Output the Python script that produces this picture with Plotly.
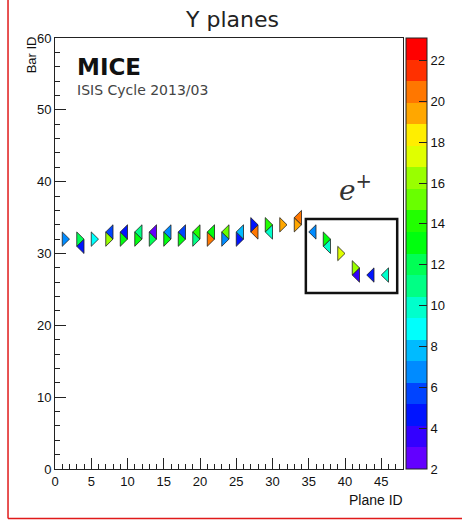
import colorsys
import plotly.graph_objects as go

# ---------------- data ----------------
plane_id = [1, 3, 3, 5, 7, 7, 9, 9, 11, 11, 13, 13, 15, 15, 17, 17, 19, 19, 21, 21,
            23, 23, 25, 25, 27, 27, 29, 29, 31, 33, 33, 35, 37, 37, 39, 41, 41, 43, 45]
bar_id = [32, 31, 32, 32, 32, 33, 32, 33, 32, 33, 32, 33, 32, 33, 32, 33, 32, 33, 32, 33,
          32, 33, 32, 33, 33, 34, 33, 34, 34, 34, 35, 33, 31, 32, 30, 27, 28, 27, 27]
charge = [7.0, 4.5, 12.5, 9.0, 16.0, 6.0, 13.0, 4.5, 13.0, 10.5, 12.0, 3.0, 13.0, 6.5,
          13.5, 6.0, 11.0, 14.0, 20.0, 13.5, 7.0, 15.0, 5.0, 8.0, 20.5, 5.0, 10.0, 14.5,
          19.0, 19.0, 20.5, 6.5, 10.0, 13.5, 17.0, 3.5, 16.5, 4.5, 10.0]
z_min, z_max = 2.0, 23.1
z_ticks = [2, 4, 6, 8, 10, 12, 14, 16, 18, 20, 22]
x_range = [0, 48]
y_range = [0, 60]

# ---------------- ROOT "pretty" palette, 20 contour bands ----------------
n_pal, n_cont = 50, 20
pal = []
for i in range(n_pal):
    hue = 280 - (i + 1) * (280.0 / n_pal)
    r, g, b = colorsys.hls_to_rgb(hue / 360.0, 0.5, 1.0)
    pal.append("rgb(%d,%d,%d)" % (round(r * 255), round(g * 255), round(b * 255)))
band_colors = [pal[int((k + 0.99) * n_pal / n_cont)] for k in range(n_cont)]
colorscale = []
for k, c in enumerate(band_colors):
    colorscale.append([k / n_cont, c])
    colorscale.append([(k + 1) / n_cont, c])


def band_color(v):
    k = int((v - z_min) / (z_max - z_min) * n_cont)
    return band_colors[min(max(k, 0), n_cont - 1)]


fig = go.Figure()

# triangles: even bars point right, odd bars point left
for p, j, q in zip(plane_id, bar_id, charge):
    if j % 2 == 0:
        xs = [p, p, p + 1, p]
    else:
        xs = [p + 1, p + 1, p, p + 1]
    ys = [j - 1, j + 1, j, j - 1]
    fig.add_trace(go.Scatter(x=xs, y=ys, mode="lines", fill="toself",
                             fillcolor=band_color(q), line=dict(color="#222222", width=0.8),
                             hoverinfo="skip", showlegend=False))

# invisible markers carrying the colour scale (for colour bar)
fig.add_trace(go.Scatter(
    x=[p + 0.5 for p in plane_id], y=bar_id, mode="markers",
    marker=dict(color=charge, colorscale=colorscale, cmin=z_min, cmax=z_max,
                opacity=0, size=1, showscale=True,
                colorbar=dict(thickness=21, thicknessmode="pixels", len=1, lenmode="fraction",
                              x=1.008, xanchor="left", xref="paper", y=0, yanchor="bottom",
                              yref="paper", outlinewidth=1, outlinecolor="#222",
                              tickmode="array", tickvals=z_ticks, ticks="inside", ticklen=8,
                              tickcolor="#222", ticklabelposition="outside",
                              tickfont=dict(family="Liberation Sans", size=13, color="#111"),
                              xpad=0, ypad=0)),
    hoverinfo="skip", showlegend=False))

axis_common = dict(showline=True, linecolor="#222", linewidth=1, mirror=True,
                   showgrid=False, zeroline=False, ticks="inside", tickcolor="#222",
                   automargin=False,
                   tickfont=dict(family="Liberation Sans", size=13, color="#111"))
fig.update_layout(
    width=470, height=520, autosize=False,
    margin=dict(l=55, r=67, t=38, b=51),
    paper_bgcolor="white", plot_bgcolor="white",
    xaxis=dict(range=x_range, tick0=0, dtick=5, ticklen=11,
               minor=dict(dtick=1, ticklen=5, ticks="inside", tickcolor="#222"),
               **axis_common),
    yaxis=dict(range=y_range, tick0=0, dtick=10, ticklen=11,
               minor=dict(dtick=2, ticklen=5, ticks="inside", tickcolor="#222"),
               **axis_common),
)

fig.add_annotation(text="Y planes", xref="paper", yref="paper", x=0.509, y=1.044,
                   showarrow=False, xanchor="center", yanchor="middle",
                   font=dict(family="DejaVu Sans", size=22, color="#222"))
fig.add_annotation(text="<b>MICE</b>", xref="x", yref="y", x=2.8, y=56.0,
                   showarrow=False, xanchor="left", yanchor="middle",
                   font=dict(family="DejaVu Sans", size=23, color="#111"))
fig.add_annotation(text="ISIS Cycle 2013/03", xref="x", yref="y", x=2.8, y=52.8,
                   showarrow=False, xanchor="left", yanchor="middle",
                   font=dict(family="DejaVu Sans", size=14, color="#444"))
fig.add_annotation(text="<i>e</i><sup>+</sup>", xref="x", yref="y", x=41.5, y=39.0,
                   showarrow=False, xanchor="center", yanchor="middle",
                   font=dict(family="DejaVu Serif", size=28, color="#333"))
fig.add_annotation(text="Bar ID", xref="paper", yref="paper", x=-0.069, y=0.962,
                   textangle=-90, showarrow=False, xanchor="center", yanchor="middle",
                   font=dict(family="Liberation Sans", size=13, color="#111"))
fig.add_annotation(text="Plane ID", xref="paper", yref="paper", x=1.006, y=-0.072,
                   showarrow=False, xanchor="right", yanchor="middle",
                   font=dict(family="Liberation Sans", size=14, color="#111"))

fig.add_shape(type="rect", xref="x", yref="y", x0=34.6, x1=47.2, y0=24.5, y1=34.8,
              line=dict(color="#111", width=2.5))
# red frame (left and bottom edges visible)
fig.add_shape(type="line", xref="paper", yref="paper", x0=-0.135, x1=-0.135,
              y0=-0.115, y1=1.3, line=dict(color="#e01a1a", width=1.5))
fig.add_shape(type="line", xref="paper", yref="paper", x0=-0.135, x1=1.4,
              y0=-0.115, y1=-0.115, line=dict(color="#e01a1a", width=1.5))

fig.write_html("out.html", config={"displayModeBar": False},
               post_script="document.body.style.margin='0';"
                           "document.body.style.overflow='hidden';"
                           "document.documentElement.style.overflow='hidden';")
